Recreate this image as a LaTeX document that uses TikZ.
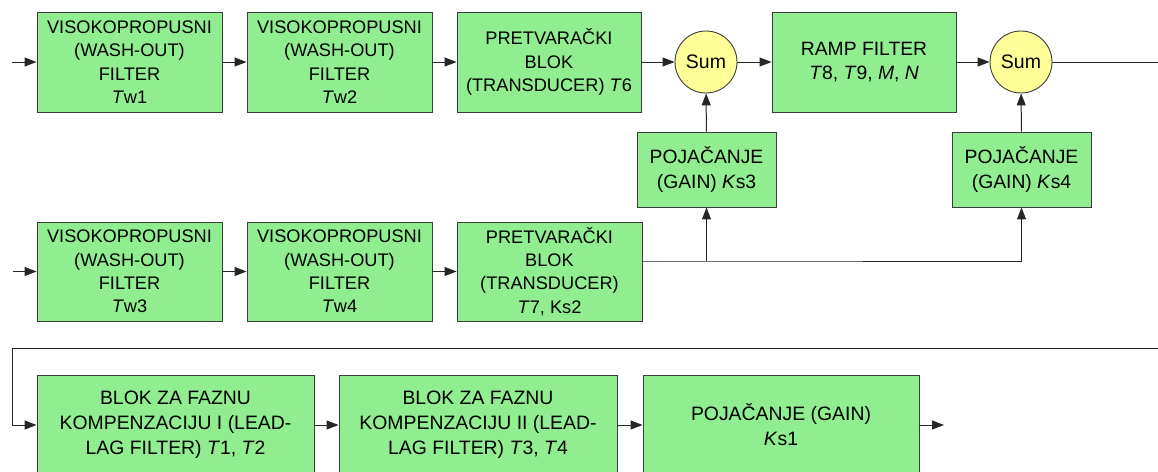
\documentclass[tikz,border=0pt]{standalone}
\usepackage{fontspec}
\setmainfont{Liberation Sans}
\usetikzlibrary{arrows.meta}
\definecolor{boxgreen}{RGB}{144,238,144}
\definecolor{sumyellow}{RGB}{255,255,153}
\definecolor{edgegray}{RGB}{60,60,60}
\begin{document}
\begin{tikzpicture}[x=1pt,y=-1pt,
  blk/.style={draw=edgegray, fill=boxgreen, line width=0.9pt, align=center, inner sep=0pt, rectangle},
  fa/.style={font=\fontsize{18.2}{23.3}\selectfont},
  fb/.style={font=\fontsize{19.3}{24.5}\selectfont},
  fc/.style={font=\fontsize{19.4}{25}\selectfont},
  sumc/.style={draw=edgegray, fill=sumyellow, line width=0.9pt, circle, minimum size=62pt, inner sep=0pt, font=\fontsize{19.5}{24}\selectfont},
  conn/.style={-{Triangle[length=12pt,width=9pt]}, line width=1pt, draw=black!85},
  wire/.style={line width=1pt, draw=black!85}]
\useasboundingbox (0,0) rectangle (1158,471);
\clip (0,0) rectangle (1158,471);
% row 1
\node[blk,fa,minimum width=185pt,minimum height=100pt] (a1) at (129.5,62) {VISOKOPROPUSNI\\(WASH-OUT)\\FILTER\\\textit{T}w1};
\node[blk,fa,minimum width=185pt,minimum height=100pt] (a2) at (339.5,62) {VISOKOPROPUSNI\\(WASH-OUT)\\FILTER\\\textit{T}w2};
\node[blk,fa,minimum width=184pt,minimum height=100pt] (a3) at (549,62) {PRETVARAČKI\\BLOK\\(TRANSDUCER) \textit{T}6};
\node[sumc] (s1) at (706,62) {Sum};
\node[blk,fb,minimum width=184pt,minimum height=100pt] (r) at (864,62) {RAMP FILTER\\\textit{T}8, \textit{T}9, \textit{M}, \textit{N}};
\node[sumc] (s2) at (1021,62) {Sum};
% gains
\node[blk,fb,minimum width=139pt,minimum height=75pt] (g3) at (706.5,169.5) {POJAČANJE\\(GAIN) \textit{K}s3};
\node[blk,fb,minimum width=139pt,minimum height=75pt] (g4) at (1021.5,169.5) {POJAČANJE\\(GAIN) \textit{K}s4};
% row 2
\node[blk,fa,minimum width=185pt,minimum height=99pt] (b1) at (129.5,271.5) {VISOKOPROPUSNI\\(WASH-OUT)\\FILTER\\\textit{T}w3};
\node[blk,fa,minimum width=185pt,minimum height=99pt] (b2) at (339.5,271.5) {VISOKOPROPUSNI\\(WASH-OUT)\\FILTER\\\textit{T}w4};
\node[blk,fa,minimum width=185pt,minimum height=99pt] (b3) at (549.5,271.5) {PRETVARAČKI\\BLOK\\(TRANSDUCER)\\\textit{T}7, Ks2};
% row 3
\node[blk,fc,minimum width=277pt,minimum height=100pt] (c1) at (175.5,425) {BLOK ZA FAZNU\\KOMPENZACIJU I (LEAD-\\LAG FILTER) \textit{T}1, \textit{T}2};
\node[blk,fc,minimum width=278pt,minimum height=100pt] (c2) at (478,425) {BLOK ZA FAZNU\\KOMPENZACIJU II (LEAD-\\LAG FILTER) \textit{T}3, \textit{T}4};
\node[blk,fc,minimum width=276pt,minimum height=100pt] (c3) at (781,425) {POJAČANJE (GAIN)\\\textit{K}s1};
% coordinates
\coordinate (in1) at (12,62);
\coordinate (in2) at (13,271.5);
\coordinate (j1) at (706.5,261);
\coordinate (j2) at (1021.5,261);
\coordinate (o1) at (1175,62);
\coordinate (o2) at (1175,348);
\coordinate (fbk) at (12,348);
\coordinate (out3) at (944,425);
% connectors
\draw[conn] (in1) -- (a1);
\draw[conn] (a1) -- (a2);
\draw[conn] (a2) -- (a3);
\draw[conn] (a3) -- (s1);
\draw[conn] (s1) -- (r);
\draw[conn] (r) -- (s2);
\draw[conn] (g3) -- (s1);
\draw[conn] (g4) -- (s2);
\draw[conn] (in2) -- (b1);
\draw[conn] (b1) -- (b2);
\draw[conn] (b2) -- (b3);
\draw[wire] (b3.east |- j1) -- (j1) -- (j2);
\draw[conn] (j1) -- (g3);
\draw[conn] (j2) -- (g4);
\draw[conn] (s2.east) -- (o1) -- (o2) -- (fbk) |- (c1.west);
\draw[conn] (c1) -- (c2);
\draw[conn] (c2) -- (c3);
\draw[conn] (c3) -- (out3);
\end{tikzpicture}
\end{document}
